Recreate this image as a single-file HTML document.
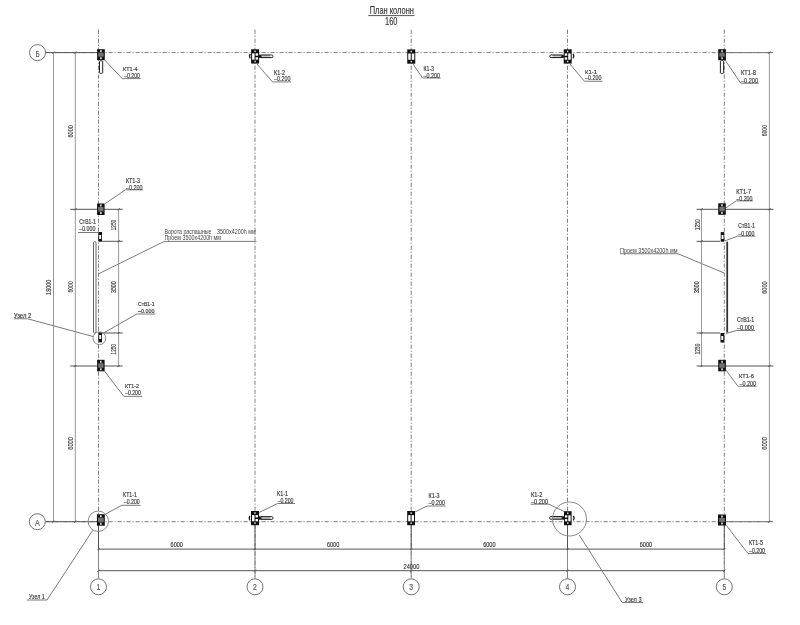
<!DOCTYPE html>
<html><head><meta charset="utf-8"><style>
html,body{margin:0;padding:0;background:#fff;width:800px;height:625px;overflow:hidden}
svg{display:block}
text{font-family:"Liberation Sans",sans-serif}
#g{will-change:transform}
</style></head><body>
<svg width="800" height="625" viewBox="0 0 800 625">
<rect width="800" height="625" fill="#fff"/>
<g id="g"><line x1="98.5" y1="29.6" x2="98.5" y2="578.6" stroke="#808080" stroke-width="1" stroke-dasharray="4.2,1.8,1.2,1.8" stroke-linecap="butt"/>
<line x1="255" y1="29.6" x2="255" y2="578.6" stroke="#808080" stroke-width="1" stroke-dasharray="4.2,1.8,1.2,1.8" stroke-linecap="butt"/>
<line x1="411.2" y1="29.6" x2="411.2" y2="578.6" stroke="#808080" stroke-width="1" stroke-dasharray="4.2,1.8,1.2,1.8" stroke-linecap="butt"/>
<line x1="567.5" y1="29.6" x2="567.5" y2="578.6" stroke="#808080" stroke-width="1" stroke-dasharray="4.2,1.8,1.2,1.8" stroke-linecap="butt"/>
<line x1="724.3" y1="29.6" x2="724.3" y2="578.6" stroke="#808080" stroke-width="1" stroke-dasharray="4.2,1.8,1.2,1.8" stroke-linecap="butt"/>
<line x1="45.5" y1="52.6" x2="773" y2="52.6" stroke="#808080" stroke-width="1" stroke-dasharray="4.2,1.8,1.2,1.8" stroke-linecap="butt"/>
<line x1="45.5" y1="521.7" x2="773" y2="521.7" stroke="#808080" stroke-width="1" stroke-dasharray="4.2,1.8,1.2,1.8" stroke-linecap="butt"/>
<line x1="45.5" y1="52.6" x2="97" y2="52.6" stroke="#555" stroke-width="1" stroke-linecap="butt"/>
<line x1="45.5" y1="521.7" x2="97" y2="521.7" stroke="#555" stroke-width="1" stroke-linecap="butt"/>
<line x1="726" y1="52.6" x2="773" y2="52.6" stroke="#777" stroke-width="1" stroke-linecap="butt"/>
<line x1="726" y1="521.7" x2="773" y2="521.7" stroke="#777" stroke-width="1" stroke-linecap="butt"/>
<circle cx="37.5" cy="52.6" r="8" fill="none" stroke="#707070" stroke-width="1"/>
<circle cx="37.3" cy="521.7" r="8" fill="none" stroke="#707070" stroke-width="1"/>
<circle cx="98.5" cy="586.8" r="8" fill="none" stroke="#707070" stroke-width="1"/>
<circle cx="255" cy="586.8" r="8" fill="none" stroke="#707070" stroke-width="1"/>
<circle cx="411.2" cy="586.8" r="8" fill="none" stroke="#707070" stroke-width="1"/>
<circle cx="567.5" cy="586.8" r="8" fill="none" stroke="#707070" stroke-width="1"/>
<circle cx="724.3" cy="586.8" r="8" fill="none" stroke="#707070" stroke-width="1"/>
<text x="35.6" y="56.5" font-size="8.43" textLength="4.15" lengthAdjust="spacingAndGlyphs" fill="#555" stroke="#555" stroke-width="0.15">Б</text>
<text x="35" y="525.75" font-size="9.14" textLength="4.80" lengthAdjust="spacingAndGlyphs" fill="#555" stroke="#555" stroke-width="0.15">А</text>
<text x="96.6" y="590.4" font-size="9.57" textLength="3.80" lengthAdjust="spacingAndGlyphs" fill="#555" stroke="#555" stroke-width="0.15">1</text>
<text x="253.1" y="590.4" font-size="9.57" textLength="3.80" lengthAdjust="spacingAndGlyphs" fill="#555" stroke="#555" stroke-width="0.15">2</text>
<text x="409.3" y="590.4" font-size="9.57" textLength="3.80" lengthAdjust="spacingAndGlyphs" fill="#555" stroke="#555" stroke-width="0.15">3</text>
<text x="565.6" y="590.4" font-size="9.57" textLength="3.80" lengthAdjust="spacingAndGlyphs" fill="#555" stroke="#555" stroke-width="0.15">4</text>
<text x="722.4" y="590.4" font-size="9.57" textLength="3.80" lengthAdjust="spacingAndGlyphs" fill="#555" stroke="#555" stroke-width="0.15">5</text>
<line x1="53.5" y1="52.6" x2="53.5" y2="521.7" stroke="#999" stroke-width="1" stroke-linecap="butt"/>
<line x1="75.3" y1="52.6" x2="75.3" y2="521.7" stroke="#999" stroke-width="1" stroke-linecap="butt"/>
<line x1="118.6" y1="209.3" x2="118.6" y2="366" stroke="#999" stroke-width="1" stroke-linecap="butt"/>
<line x1="70.2" y1="209.3" x2="122.7" y2="209.3" stroke="#555" stroke-width="1" stroke-linecap="butt"/>
<line x1="70.2" y1="366" x2="122.7" y2="366" stroke="#555" stroke-width="1" stroke-linecap="butt"/>
<line x1="102" y1="241.3" x2="122.7" y2="241.3" stroke="#555" stroke-width="1" stroke-linecap="butt"/>
<line x1="102" y1="333" x2="122.7" y2="333" stroke="#555" stroke-width="1" stroke-linecap="butt"/>
<text transform="translate(51.3,294.9) rotate(-90)" x="0" y="0" font-size="7.14" textLength="15.20" lengthAdjust="spacingAndGlyphs" fill="#333" stroke="#333" stroke-width="0.15">18000</text>
<text transform="translate(73,137.5) rotate(-90)" x="0" y="0" font-size="6.86" textLength="12.50" lengthAdjust="spacingAndGlyphs" fill="#333" stroke="#333" stroke-width="0.15">6000</text>
<text transform="translate(73,292.5) rotate(-90)" x="0" y="0" font-size="6.86" textLength="11.25" lengthAdjust="spacingAndGlyphs" fill="#333" stroke="#333" stroke-width="0.15">6000</text>
<text transform="translate(73,449.8) rotate(-90)" x="0" y="0" font-size="6.86" textLength="12.80" lengthAdjust="spacingAndGlyphs" fill="#333" stroke="#333" stroke-width="0.15">6000</text>
<text transform="translate(116.3,230.2) rotate(-90)" x="0" y="0" font-size="7.14" textLength="10.20" lengthAdjust="spacingAndGlyphs" fill="#333" stroke="#333" stroke-width="0.15">1250</text>
<text transform="translate(116.3,293) rotate(-90)" x="0" y="0" font-size="7.14" textLength="11.75" lengthAdjust="spacingAndGlyphs" fill="#333" stroke="#333" stroke-width="0.15">3500</text>
<text transform="translate(116,354.4) rotate(-90)" x="0" y="0" font-size="7.14" textLength="10.20" lengthAdjust="spacingAndGlyphs" fill="#333" stroke="#333" stroke-width="0.15">1250</text>
<line x1="769.4" y1="52.6" x2="769.4" y2="521.7" stroke="#999" stroke-width="1" stroke-linecap="butt"/>
<line x1="701.5" y1="209.3" x2="701.5" y2="366" stroke="#999" stroke-width="1" stroke-linecap="butt"/>
<line x1="696.6" y1="209.3" x2="773.5" y2="209.3" stroke="#555" stroke-width="1" stroke-linecap="butt"/>
<line x1="696.6" y1="366" x2="773.5" y2="366" stroke="#555" stroke-width="1" stroke-linecap="butt"/>
<line x1="696.6" y1="241.3" x2="720" y2="241.3" stroke="#555" stroke-width="1" stroke-linecap="butt"/>
<line x1="696.6" y1="333" x2="720" y2="333" stroke="#555" stroke-width="1" stroke-linecap="butt"/>
<text transform="translate(767.3,136.25) rotate(-90)" x="0" y="0" font-size="6.86" textLength="11.25" lengthAdjust="spacingAndGlyphs" fill="#333" stroke="#333" stroke-width="0.15">6000</text>
<text transform="translate(767.3,293.75) rotate(-90)" x="0" y="0" font-size="6.86" textLength="12.50" lengthAdjust="spacingAndGlyphs" fill="#333" stroke="#333" stroke-width="0.15">6000</text>
<text transform="translate(767.3,449.8) rotate(-90)" x="0" y="0" font-size="6.86" textLength="12.80" lengthAdjust="spacingAndGlyphs" fill="#333" stroke="#333" stroke-width="0.15">6000</text>
<text transform="translate(699.8,230.2) rotate(-90)" x="0" y="0" font-size="7.14" textLength="10.90" lengthAdjust="spacingAndGlyphs" fill="#333" stroke="#333" stroke-width="0.15">1250</text>
<text transform="translate(699.4,293.1) rotate(-90)" x="0" y="0" font-size="7.14" textLength="11.85" lengthAdjust="spacingAndGlyphs" fill="#333" stroke="#333" stroke-width="0.15">3500</text>
<text transform="translate(699.8,354.4) rotate(-90)" x="0" y="0" font-size="7.14" textLength="10.90" lengthAdjust="spacingAndGlyphs" fill="#333" stroke="#333" stroke-width="0.15">1250</text>
<line x1="98.3" y1="549.1" x2="724.3" y2="549.1" stroke="#555" stroke-width="1" stroke-linecap="butt"/>
<line x1="98.3" y1="570.7" x2="724.3" y2="570.7" stroke="#555" stroke-width="1" stroke-linecap="butt"/>
<line x1="98.5" y1="525" x2="98.5" y2="549.1" stroke="#555" stroke-width="1" stroke-linecap="butt"/>
<line x1="98.5" y1="549.1" x2="98.5" y2="578.7" stroke="#888" stroke-width="1" stroke-linecap="butt"/>
<line x1="255" y1="525" x2="255" y2="549.1" stroke="#555" stroke-width="1" stroke-linecap="butt"/>
<line x1="255" y1="549.1" x2="255" y2="578.7" stroke="#888" stroke-width="1" stroke-linecap="butt"/>
<line x1="411.2" y1="525" x2="411.2" y2="549.1" stroke="#555" stroke-width="1" stroke-linecap="butt"/>
<line x1="411.2" y1="549.1" x2="411.2" y2="578.7" stroke="#888" stroke-width="1" stroke-linecap="butt"/>
<line x1="567.5" y1="525" x2="567.5" y2="549.1" stroke="#555" stroke-width="1" stroke-linecap="butt"/>
<line x1="567.5" y1="549.1" x2="567.5" y2="578.7" stroke="#888" stroke-width="1" stroke-linecap="butt"/>
<line x1="724.3" y1="525" x2="724.3" y2="549.1" stroke="#555" stroke-width="1" stroke-linecap="butt"/>
<line x1="724.3" y1="549.1" x2="724.3" y2="578.7" stroke="#888" stroke-width="1" stroke-linecap="butt"/>
<text x="170.55" y="547.1" font-size="7.43" textLength="12.40" lengthAdjust="spacingAndGlyphs" fill="#333" stroke="#333" stroke-width="0.15">6000</text>
<text x="326.90000000000003" y="547.1" font-size="7.43" textLength="12.40" lengthAdjust="spacingAndGlyphs" fill="#333" stroke="#333" stroke-width="0.15">6000</text>
<text x="483.15000000000003" y="547.1" font-size="7.43" textLength="12.40" lengthAdjust="spacingAndGlyphs" fill="#333" stroke="#333" stroke-width="0.15">6000</text>
<text x="639.6999999999999" y="547.1" font-size="7.43" textLength="12.40" lengthAdjust="spacingAndGlyphs" fill="#333" stroke="#333" stroke-width="0.15">6000</text>
<text x="403.5" y="568.8" font-size="8.00" textLength="15.80" lengthAdjust="spacingAndGlyphs" fill="#333" stroke="#333" stroke-width="0.15">24000</text>
<text x="369.75" y="14.25" font-size="10.14" textLength="44.15" lengthAdjust="spacingAndGlyphs" fill="#333" stroke="#333" stroke-width="0.15">План колонн</text>
<line x1="368.25" y1="15.6" x2="414.4" y2="15.6" stroke="#555" stroke-width="1" stroke-linecap="butt"/>
<text x="385.1" y="24.75" font-size="11.21" textLength="12.40" lengthAdjust="spacingAndGlyphs" fill="#333" stroke="#333" stroke-width="0.15">160</text>
<rect x="97.1" y="49.2" width="7.7" height="11" fill="#111" rx="0"/>
<rect x="98.19999999999999" y="52.7" width="5.5" height="4.0" fill="#707070" rx="0"/>
<rect x="100.24999999999999" y="50.2" width="1.4" height="2.0" fill="#fff" rx="0"/>
<rect x="100.24999999999999" y="57.2" width="1.4" height="2.0" fill="#fff" rx="0"/>
<rect x="99.5" y="60.8" width="3.2" height="12.5" fill="#fff" stroke="#222" stroke-width="1" rx="0.8"/>
<rect x="251.1" y="49.25" width="8" height="14.3" fill="#111" rx="0"/>
<rect x="254.5" y="50.55" width="1.2" height="1.6" fill="#fff" rx="0"/>
<rect x="254.5" y="60.65" width="1.2" height="1.6" fill="#fff" rx="0"/>
<rect x="252.1" y="53.35" width="2.5" height="6.300000000000001" fill="#fff" rx="0"/>
<rect x="255.6" y="53.35" width="2.5" height="2.3500000000000005" fill="#fff" rx="0"/>
<rect x="255.6" y="57.3" width="2.5" height="2.3500000000000005" fill="#fff" rx="0"/>
<rect x="259.5" y="55.0" width="13.399999999999977" height="2.6" fill="#ccc" stroke="#111" stroke-width="1" rx="1.2"/>
<rect x="270.2" y="55.6" width="2" height="1.4" fill="#fff" rx="0"/>
<path d="M259 54.3 L262 56.3 L259 58.3 Z" fill="#111"/>
<path d="M250.3 54 Q248.70000000000002 56.2 250.3 58.4" fill="none" stroke="#222" stroke-width="1.3"/>
<rect x="407.25" y="49.4" width="8" height="14.3" fill="#111" rx="0"/>
<rect x="410.65" y="50.699999999999996" width="1.2" height="1.6" fill="#fff" rx="0"/>
<rect x="410.65" y="60.800000000000004" width="1.2" height="1.6" fill="#fff" rx="0"/>
<rect x="408.25" y="53.5" width="2.5" height="6.300000000000001" fill="#fff" rx="0"/>
<rect x="411.75" y="53.5" width="2.5" height="6.300000000000001" fill="#fff" rx="0"/>
<rect x="563.7" y="49.3" width="8" height="14.3" fill="#111" rx="0"/>
<rect x="567.1" y="50.599999999999994" width="1.2" height="1.6" fill="#fff" rx="0"/>
<rect x="567.1" y="60.699999999999996" width="1.2" height="1.6" fill="#fff" rx="0"/>
<rect x="568.2" y="53.4" width="2.5" height="6.300000000000001" fill="#fff" rx="0"/>
<rect x="564.7" y="53.4" width="2.5" height="2.3500000000000005" fill="#fff" rx="0"/>
<rect x="564.7" y="57.349999999999994" width="2.5" height="2.3500000000000005" fill="#fff" rx="0"/>
<rect x="549.9" y="55.0" width="13.300000000000068" height="2.6" fill="#ccc" stroke="#111" stroke-width="1" rx="1.2"/>
<rect x="550.6" y="55.6" width="2" height="1.4" fill="#fff" rx="0"/>
<path d="M563.7 54.3 L560.7 56.3 L563.7 58.3 Z" fill="#111"/>
<path d="M573 54 Q574.6 56.2 573 58.4" fill="none" stroke="#222" stroke-width="1.3"/>
<rect x="718.2" y="49.2" width="7.7" height="11" fill="#111" rx="0"/>
<rect x="719.3000000000001" y="52.7" width="5.5" height="4.0" fill="#707070" rx="0"/>
<rect x="721.35" y="50.2" width="1.4" height="2.0" fill="#fff" rx="0"/>
<rect x="721.35" y="57.2" width="1.4" height="2.0" fill="#fff" rx="0"/>
<rect x="720.4" y="60.6" width="3.2" height="12.8" fill="#fff" stroke="#222" stroke-width="1" rx="0.8"/>
<rect x="97.1" y="203.5" width="7.5" height="11.5" fill="#111" rx="0"/>
<rect x="98.19999999999999" y="207.0" width="5.3" height="4.5" fill="#707070" rx="0"/>
<rect x="100.14999999999999" y="204.5" width="1.4" height="2.0" fill="#fff" rx="0"/>
<rect x="100.14999999999999" y="212.0" width="1.4" height="2.0" fill="#fff" rx="0"/>
<rect x="97.1" y="359.8" width="7.5" height="11.5" fill="#111" rx="0"/>
<rect x="98.19999999999999" y="363.3" width="5.3" height="4.5" fill="#707070" rx="0"/>
<rect x="100.14999999999999" y="360.8" width="1.4" height="2.0" fill="#fff" rx="0"/>
<rect x="100.14999999999999" y="368.3" width="1.4" height="2.0" fill="#fff" rx="0"/>
<rect x="98.4" y="232" width="3.6" height="9.7" fill="#111" rx="0"/>
<rect x="99.2" y="235" width="2" height="4" fill="#fff" rx="0"/>
<rect x="98.4" y="332.3" width="3.6" height="10" fill="#111" rx="0"/>
<rect x="99.2" y="335" width="2" height="4" fill="#fff" rx="0"/>
<rect x="93.5" y="241.6" width="2.5" height="91.5" fill="#fff" stroke="#666" stroke-width="1" rx="1.2"/>
<circle cx="99.4" cy="338.2" r="6.4" fill="none" stroke="#888" stroke-width="1"/>
<rect x="718.2" y="203.3" width="7.6" height="11.5" fill="#111" rx="0"/>
<rect x="719.3000000000001" y="206.8" width="5.3999999999999995" height="4.5" fill="#707070" rx="0"/>
<rect x="721.3" y="204.3" width="1.4" height="2.0" fill="#fff" rx="0"/>
<rect x="721.3" y="211.8" width="1.4" height="2.0" fill="#fff" rx="0"/>
<rect x="718.2" y="359.8" width="7.7" height="11.5" fill="#111" rx="0"/>
<rect x="719.3000000000001" y="363.3" width="5.5" height="4.5" fill="#707070" rx="0"/>
<rect x="721.35" y="360.8" width="1.4" height="2.0" fill="#fff" rx="0"/>
<rect x="721.35" y="368.3" width="1.4" height="2.0" fill="#fff" rx="0"/>
<rect x="720.7" y="232.1" width="3.5" height="9.6" fill="#111" rx="0"/>
<rect x="721.5" y="235" width="2" height="4" fill="#fff" rx="0"/>
<rect x="720.5" y="333" width="3.8" height="9.5" fill="#111" rx="0"/>
<rect x="721.3" y="336" width="2" height="4" fill="#fff" rx="0"/>
<line x1="727.2" y1="241.7" x2="727.2" y2="332.6" stroke="#333" stroke-width="1.8" stroke-linecap="butt"/>
<rect x="96.9" y="514.2" width="7.9" height="11.5" fill="#111" rx="0"/>
<rect x="98.0" y="517.7" width="5.7" height="4.5" fill="#707070" rx="0"/>
<rect x="100.15" y="515.2" width="1.4" height="2.0" fill="#fff" rx="0"/>
<rect x="100.15" y="522.7" width="1.4" height="2.0" fill="#fff" rx="0"/>
<circle cx="98.3" cy="521.25" r="10.2" fill="none" stroke="#888" stroke-width="1"/>
<rect x="251" y="511" width="8" height="14.2" fill="#111" rx="0"/>
<rect x="254.4" y="512.3" width="1.2" height="1.6" fill="#fff" rx="0"/>
<rect x="254.4" y="522.3000000000001" width="1.2" height="1.6" fill="#fff" rx="0"/>
<rect x="252" y="515.1" width="2.5" height="6.199999999999999" fill="#fff" rx="0"/>
<rect x="255.5" y="515.1" width="2.5" height="2.3" fill="#fff" rx="0"/>
<rect x="255.5" y="519.0" width="2.5" height="2.3" fill="#fff" rx="0"/>
<rect x="259.5" y="516.7" width="13.5" height="2.6" fill="#ccc" stroke="#111" stroke-width="1" rx="1.2"/>
<rect x="270.3" y="517.3000000000001" width="2" height="1.4" fill="#fff" rx="0"/>
<path d="M259 516.0 L262 518.0 L259 520.0 Z" fill="#111"/>
<path d="M250 516 Q248.4 518.2 250 520.4" fill="none" stroke="#222" stroke-width="1.3"/>
<rect x="407.2" y="511" width="7.8" height="14.2" fill="#111" rx="0"/>
<rect x="410.49999999999994" y="512.3" width="1.2" height="1.6" fill="#fff" rx="0"/>
<rect x="410.49999999999994" y="522.3000000000001" width="1.2" height="1.6" fill="#fff" rx="0"/>
<rect x="408.2" y="515.1" width="2.4" height="6.199999999999999" fill="#fff" rx="0"/>
<rect x="411.59999999999997" y="515.1" width="2.4" height="6.199999999999999" fill="#fff" rx="0"/>
<rect x="564" y="511.2" width="7.6" height="14" fill="#111" rx="0"/>
<rect x="567.1999999999999" y="512.5" width="1.2" height="1.6" fill="#fff" rx="0"/>
<rect x="567.1999999999999" y="522.3000000000001" width="1.2" height="1.6" fill="#fff" rx="0"/>
<rect x="568.3" y="515.3" width="2.3" height="6.0" fill="#fff" rx="0"/>
<rect x="565" y="515.3" width="2.3" height="2.2" fill="#fff" rx="0"/>
<rect x="565" y="519.0999999999999" width="2.3" height="2.2" fill="#fff" rx="0"/>
<rect x="549.7" y="516.6" width="13.799999999999955" height="2.6" fill="#ccc" stroke="#111" stroke-width="1" rx="1.2"/>
<rect x="550.4000000000001" y="517.2" width="2" height="1.4" fill="#fff" rx="0"/>
<path d="M564 515.9 L561 517.9 L564 519.9 Z" fill="#111"/>
<path d="M573.3 516 Q574.9 518.2 573.3 520.4" fill="none" stroke="#222" stroke-width="1.3"/>
<circle cx="569.5" cy="519" r="17" fill="none" stroke="#888" stroke-width="1"/>
<rect x="718" y="514.5" width="8" height="11" fill="#111" rx="0"/>
<rect x="719.1" y="518.0" width="5.8" height="4.0" fill="#707070" rx="0"/>
<rect x="721.3" y="515.5" width="1.4" height="2.0" fill="#fff" rx="0"/>
<rect x="721.3" y="522.5" width="1.4" height="2.0" fill="#fff" rx="0"/>
<polyline points="104.4,59.7 122.2,78.6 140.6,78.6" fill="none" stroke="#7a7a7a" stroke-width="1"/>
<text x="123.1" y="70.6" font-size="6.00" textLength="14.40" lengthAdjust="spacingAndGlyphs" fill="#333" stroke="#333" stroke-width="0.15">КТ1-4</text>
<text x="124" y="77.8" font-size="7.14" textLength="16.00" lengthAdjust="spacingAndGlyphs" fill="#333" stroke="#333" stroke-width="0.15">–0.200</text>
<polyline points="257,64 272.5,81.9 291,81.9" fill="none" stroke="#7a7a7a" stroke-width="1"/>
<text x="274" y="74.75" font-size="6.57" textLength="11.00" lengthAdjust="spacingAndGlyphs" fill="#333" stroke="#333" stroke-width="0.15">К1-2</text>
<text x="274" y="81" font-size="7.43" textLength="16.50" lengthAdjust="spacingAndGlyphs" fill="#333" stroke="#333" stroke-width="0.15">–0.200</text>
<polyline points="413,64 422.5,78 440.6,78" fill="none" stroke="#7a7a7a" stroke-width="1"/>
<text x="423.5" y="70.6" font-size="6.57" textLength="10.50" lengthAdjust="spacingAndGlyphs" fill="#333" stroke="#333" stroke-width="0.15">К1-3</text>
<text x="423.5" y="77.5" font-size="6.86" textLength="16.50" lengthAdjust="spacingAndGlyphs" fill="#333" stroke="#333" stroke-width="0.15">–0.200</text>
<polyline points="570,64 584.4,81.25 602.5,81.25" fill="none" stroke="#7a7a7a" stroke-width="1"/>
<text x="585" y="73.75" font-size="6.00" textLength="12.00" lengthAdjust="spacingAndGlyphs" fill="#333" stroke="#333" stroke-width="0.15">К1-1</text>
<text x="585" y="80" font-size="7.14" textLength="16.50" lengthAdjust="spacingAndGlyphs" fill="#333" stroke="#333" stroke-width="0.15">–0.200</text>
<polyline points="725,60 740.75,83.25 758.75,83.25" fill="none" stroke="#7a7a7a" stroke-width="1"/>
<text x="741" y="75" font-size="6.43" textLength="15.00" lengthAdjust="spacingAndGlyphs" fill="#333" stroke="#333" stroke-width="0.15">КТ1-8</text>
<text x="741" y="82.5" font-size="7.43" textLength="17.00" lengthAdjust="spacingAndGlyphs" fill="#333" stroke="#333" stroke-width="0.15">–0.200</text>
<polyline points="104.6,204 125.3,189.8 143.2,189.8" fill="none" stroke="#7a7a7a" stroke-width="1"/>
<text x="126" y="182.5" font-size="6.43" textLength="14.00" lengthAdjust="spacingAndGlyphs" fill="#333" stroke="#333" stroke-width="0.15">КТ1-3</text>
<text x="126" y="189.5" font-size="7.43" textLength="16.50" lengthAdjust="spacingAndGlyphs" fill="#333" stroke="#333" stroke-width="0.15">–0.200</text>
<text x="79.2" y="223.8" font-size="6.43" textLength="16.70" lengthAdjust="spacingAndGlyphs" fill="#333" stroke="#333" stroke-width="0.15">СтВ1-1</text>
<text x="79.2" y="230.8" font-size="6.43" textLength="16.30" lengthAdjust="spacingAndGlyphs" fill="#333" stroke="#333" stroke-width="0.15">–0.000</text>
<line x1="78" y1="232.5" x2="98" y2="232.5" stroke="#7a7a7a" stroke-width="1" stroke-linecap="butt"/>
<polyline points="103.5,333 136.8,314 155.4,314" fill="none" stroke="#7a7a7a" stroke-width="1"/>
<text x="138" y="306.4" font-size="6.00" textLength="16.70" lengthAdjust="spacingAndGlyphs" fill="#333" stroke="#333" stroke-width="0.15">СтВ1-1</text>
<text x="138" y="312.8" font-size="6.00" textLength="16.50" lengthAdjust="spacingAndGlyphs" fill="#333" stroke="#333" stroke-width="0.15">–0.000</text>
<polyline points="93,336.5 27.5,318.75 13.75,318.75" fill="none" stroke="#7a7a7a" stroke-width="1"/>
<text x="13.75" y="318" font-size="6.43" textLength="17.50" lengthAdjust="spacingAndGlyphs" fill="#333" stroke="#333" stroke-width="0.15">Узел 2</text>
<polyline points="104.4,371 123.9,396.4 142.3,396.4" fill="none" stroke="#7a7a7a" stroke-width="1"/>
<text x="125" y="387.75" font-size="6.00" textLength="13.90" lengthAdjust="spacingAndGlyphs" fill="#333" stroke="#333" stroke-width="0.15">КТ1-2</text>
<text x="125" y="395.1" font-size="6.86" textLength="15.90" lengthAdjust="spacingAndGlyphs" fill="#333" stroke="#333" stroke-width="0.15">–0.200</text>
<polyline points="98.75,273.75 164.25,241.4 256.5,241.4" fill="none" stroke="#7a7a7a" stroke-width="1"/>
<text x="164.5" y="233.9" font-size="7.29" textLength="47.00" lengthAdjust="spacingAndGlyphs" fill="#444" stroke="#444" stroke-width="0">Ворота распашные</text>
<text x="216.9" y="234.1" font-size="7.57" textLength="38.80" lengthAdjust="spacingAndGlyphs" fill="#444" stroke="#444" stroke-width="0">3500х4200h мм</text>
<text x="164.5" y="240.1" font-size="6.86" textLength="56.50" lengthAdjust="spacingAndGlyphs" fill="#444" stroke="#444" stroke-width="0">Проем 3500х4200h мм</text>
<polyline points="725.8,208 736.3,200.9 753.2,200.9" fill="none" stroke="#7a7a7a" stroke-width="1"/>
<text x="736.3" y="193.7" font-size="6.43" textLength="14.70" lengthAdjust="spacingAndGlyphs" fill="#333" stroke="#333" stroke-width="0.15">КТ1-7</text>
<text x="736.3" y="200.7" font-size="6.57" textLength="16.20" lengthAdjust="spacingAndGlyphs" fill="#333" stroke="#333" stroke-width="0.15">–0.200</text>
<polyline points="724.5,241 737.6,236.2 755.5,236.2" fill="none" stroke="#7a7a7a" stroke-width="1"/>
<text x="738.3" y="228.3" font-size="6.43" textLength="16.60" lengthAdjust="spacingAndGlyphs" fill="#333" stroke="#333" stroke-width="0.15">СтВ1-1</text>
<text x="738.3" y="235.6" font-size="6.86" textLength="16.20" lengthAdjust="spacingAndGlyphs" fill="#333" stroke="#333" stroke-width="0.15">–0.000</text>
<polyline points="726,333.5 736.3,330.5 754.9,330.5" fill="none" stroke="#7a7a7a" stroke-width="1"/>
<text x="737" y="322.4" font-size="6.29" textLength="17.30" lengthAdjust="spacingAndGlyphs" fill="#333" stroke="#333" stroke-width="0.15">СтВ1-1</text>
<text x="737" y="329.7" font-size="6.71" textLength="17.00" lengthAdjust="spacingAndGlyphs" fill="#333" stroke="#333" stroke-width="0.15">–0.000</text>
<polyline points="725.9,370 737.9,386.25 756.6,386.25" fill="none" stroke="#7a7a7a" stroke-width="1"/>
<text x="739" y="378.4" font-size="6.00" textLength="15.00" lengthAdjust="spacingAndGlyphs" fill="#333" stroke="#333" stroke-width="0.15">КТ1-6</text>
<text x="739.5" y="385.9" font-size="7.00" textLength="16.50" lengthAdjust="spacingAndGlyphs" fill="#333" stroke="#333" stroke-width="0.15">–0.200</text>
<polyline points="620,253.75 678,253.75 724.4,273.1" fill="none" stroke="#7a7a7a" stroke-width="1"/>
<text x="620" y="252.5" font-size="7.14" textLength="57.50" lengthAdjust="spacingAndGlyphs" fill="#444" stroke="#444" stroke-width="0">Проем 3500х4200h мм</text>
<polyline points="105.6,514 121.9,505.3 140.6,505.3" fill="none" stroke="#7a7a7a" stroke-width="1"/>
<text x="123.1" y="496.9" font-size="6.29" textLength="13.80" lengthAdjust="spacingAndGlyphs" fill="#333" stroke="#333" stroke-width="0.15">КТ1-1</text>
<text x="123.75" y="504" font-size="6.86" textLength="15.95" lengthAdjust="spacingAndGlyphs" fill="#333" stroke="#333" stroke-width="0.15">–0.200</text>
<polyline points="92.75,530.25 47,600 26.75,600" fill="none" stroke="#7a7a7a" stroke-width="1"/>
<text x="29" y="598.5" font-size="6.86" textLength="15.75" lengthAdjust="spacingAndGlyphs" fill="#333" stroke="#333" stroke-width="0.15">Узел 1</text>
<polyline points="259,512.5 277.5,503.5 295,503.5" fill="none" stroke="#7a7a7a" stroke-width="1"/>
<text x="277" y="495.5" font-size="6.43" textLength="11.00" lengthAdjust="spacingAndGlyphs" fill="#333" stroke="#333" stroke-width="0.15">К1-1</text>
<text x="277.5" y="502.8" font-size="6.86" textLength="16.00" lengthAdjust="spacingAndGlyphs" fill="#333" stroke="#333" stroke-width="0.15">–0.200</text>
<polyline points="415,512 427,506 445.5,506" fill="none" stroke="#7a7a7a" stroke-width="1"/>
<text x="428.5" y="497.8" font-size="6.86" textLength="11.00" lengthAdjust="spacingAndGlyphs" fill="#333" stroke="#333" stroke-width="0.15">К1-3</text>
<text x="428.5" y="505" font-size="7.14" textLength="16.50" lengthAdjust="spacingAndGlyphs" fill="#333" stroke="#333" stroke-width="0.15">–0.200</text>
<polyline points="564,511.5 549,504.2 530.5,504.2" fill="none" stroke="#7a7a7a" stroke-width="1"/>
<text x="531" y="496.5" font-size="6.43" textLength="11.50" lengthAdjust="spacingAndGlyphs" fill="#333" stroke="#333" stroke-width="0.15">К1-2</text>
<text x="531" y="503.8" font-size="6.86" textLength="17.00" lengthAdjust="spacingAndGlyphs" fill="#333" stroke="#333" stroke-width="0.15">–0.200</text>
<polyline points="579.4,535.25 622.25,602.6 643.25,602.6" fill="none" stroke="#7a7a7a" stroke-width="1"/>
<text x="624.9" y="601.75" font-size="7.86" textLength="16.60" lengthAdjust="spacingAndGlyphs" fill="#333" stroke="#333" stroke-width="0.15">Узел 3</text>
<polyline points="726,525 748,553.5 766,553.5" fill="none" stroke="#7a7a7a" stroke-width="1"/>
<text x="749" y="545" font-size="6.43" textLength="14.00" lengthAdjust="spacingAndGlyphs" fill="#333" stroke="#333" stroke-width="0.15">КТ1-5</text>
<text x="749" y="552.5" font-size="6.71" textLength="16.00" lengthAdjust="spacingAndGlyphs" fill="#333" stroke="#333" stroke-width="0.15">–0.200</text>
<line x1="74.3" y1="53.6" x2="76.3" y2="51.6" stroke="#444" stroke-width="1" stroke-linecap="butt"/>
<line x1="768.4" y1="53.6" x2="770.4" y2="51.6" stroke="#444" stroke-width="1" stroke-linecap="butt"/>
<line x1="74.3" y1="210.3" x2="76.3" y2="208.3" stroke="#444" stroke-width="1" stroke-linecap="butt"/>
<line x1="768.4" y1="210.3" x2="770.4" y2="208.3" stroke="#444" stroke-width="1" stroke-linecap="butt"/>
<line x1="74.3" y1="367" x2="76.3" y2="365" stroke="#444" stroke-width="1" stroke-linecap="butt"/>
<line x1="768.4" y1="367" x2="770.4" y2="365" stroke="#444" stroke-width="1" stroke-linecap="butt"/>
<line x1="74.3" y1="522.7" x2="76.3" y2="520.7" stroke="#444" stroke-width="1" stroke-linecap="butt"/>
<line x1="768.4" y1="522.7" x2="770.4" y2="520.7" stroke="#444" stroke-width="1" stroke-linecap="butt"/>
<line x1="52.5" y1="53.6" x2="54.5" y2="51.6" stroke="#444" stroke-width="1" stroke-linecap="butt"/>
<line x1="52.5" y1="522.7" x2="54.5" y2="520.7" stroke="#444" stroke-width="1" stroke-linecap="butt"/>
<line x1="117.6" y1="210.3" x2="119.6" y2="208.3" stroke="#444" stroke-width="1" stroke-linecap="butt"/>
<line x1="700.5" y1="210.3" x2="702.5" y2="208.3" stroke="#444" stroke-width="1" stroke-linecap="butt"/>
<line x1="117.6" y1="242.3" x2="119.6" y2="240.3" stroke="#444" stroke-width="1" stroke-linecap="butt"/>
<line x1="700.5" y1="242.3" x2="702.5" y2="240.3" stroke="#444" stroke-width="1" stroke-linecap="butt"/>
<line x1="117.6" y1="334" x2="119.6" y2="332" stroke="#444" stroke-width="1" stroke-linecap="butt"/>
<line x1="700.5" y1="334" x2="702.5" y2="332" stroke="#444" stroke-width="1" stroke-linecap="butt"/>
<line x1="117.6" y1="367" x2="119.6" y2="365" stroke="#444" stroke-width="1" stroke-linecap="butt"/>
<line x1="700.5" y1="367" x2="702.5" y2="365" stroke="#444" stroke-width="1" stroke-linecap="butt"/>
<line x1="97.5" y1="550.1" x2="99.5" y2="548.1" stroke="#444" stroke-width="1" stroke-linecap="butt"/>
<line x1="97.5" y1="571.7" x2="99.5" y2="569.7" stroke="#444" stroke-width="1" stroke-linecap="butt"/>
<line x1="254" y1="550.1" x2="256" y2="548.1" stroke="#444" stroke-width="1" stroke-linecap="butt"/>
<line x1="254" y1="571.7" x2="256" y2="569.7" stroke="#444" stroke-width="1" stroke-linecap="butt"/>
<line x1="410.2" y1="550.1" x2="412.2" y2="548.1" stroke="#444" stroke-width="1" stroke-linecap="butt"/>
<line x1="410.2" y1="571.7" x2="412.2" y2="569.7" stroke="#444" stroke-width="1" stroke-linecap="butt"/>
<line x1="566.5" y1="550.1" x2="568.5" y2="548.1" stroke="#444" stroke-width="1" stroke-linecap="butt"/>
<line x1="566.5" y1="571.7" x2="568.5" y2="569.7" stroke="#444" stroke-width="1" stroke-linecap="butt"/>
<line x1="723.3" y1="550.1" x2="725.3" y2="548.1" stroke="#444" stroke-width="1" stroke-linecap="butt"/>
<line x1="723.3" y1="571.7" x2="725.3" y2="569.7" stroke="#444" stroke-width="1" stroke-linecap="butt"/></g>
</svg></body></html>
